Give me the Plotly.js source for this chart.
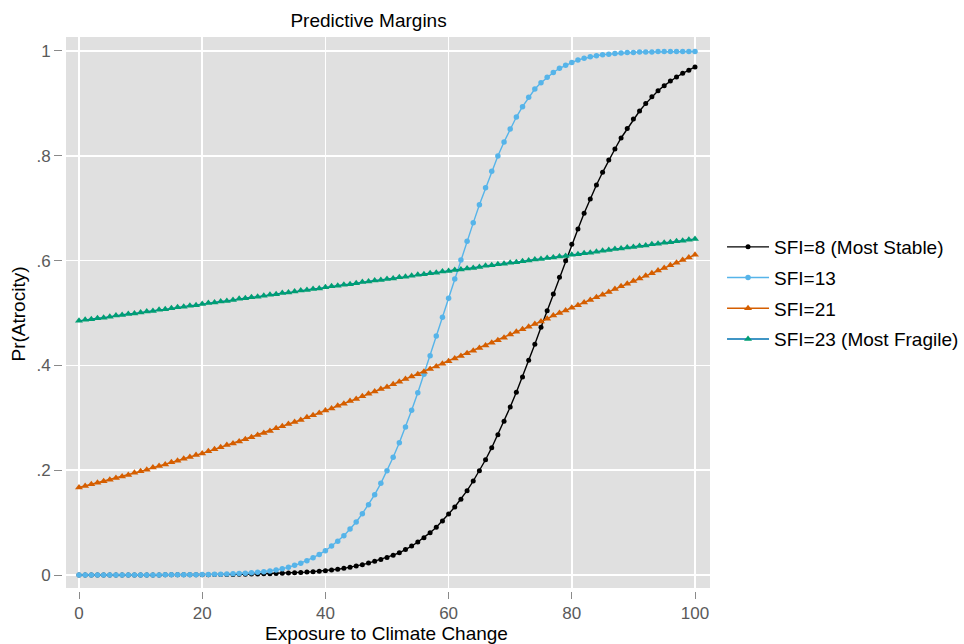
<!DOCTYPE html>
<html>
<head>
<meta charset="utf-8">
<script src="https://cdn.plot.ly/plotly-3.0.1.min.js"></script>
<style>html,body{margin:0;padding:0;background:#fff;}#chart{width:964px;height:644px;}</style>
</head>
<body>
<div id="chart"></div>
<script>
// Exposure to Climate Change (x grid)
var exposure = [0,1,2,3,4,5,6,7,8,9,10,11,12,13,14,15,16,17,18,19,20,21,22,23,24,25,26,27,28,29,30,31,32,33,34,35,36,37,38,39,40,41,42,43,44,45,46,47,48,49,50,51,52,53,54,55,56,57,58,59,60,61,62,63,64,65,66,67,68,69,70,71,72,73,74,75,76,77,78,79,80,81,82,83,84,85,86,87,88,89,90,91,92,93,94,95,96,97,98,99,100];

var seriesNames = ["SFI=8 (Most Stable)", "SFI=13", "SFI=21", "SFI=23 (Most Fragile)"];

var sfi8 = [
 0.0000,0.0000,0.0000,0.0001,0.0001,0.0001,0.0001,0.0001,0.0001,0.0001,
 0.0002,0.0002,0.0002,0.0002,0.0003,0.0003,0.0004,0.0004,0.0005,0.0005,
 0.0006,0.0007,0.0008,0.0009,0.0010,0.0012,0.0013,0.0015,0.0018,0.0020,
 0.0023,0.0026,0.0029,0.0033,0.0038,0.0043,0.0049,0.0056,0.0064,0.0073,
 0.0083,0.0096,0.0110,0.0127,0.0146,0.0170,0.0198,0.0228,0.0262,0.0297,
 0.0335,0.0378,0.0425,0.0485,0.0553,0.0630,0.0713,0.0808,0.0910,0.1031,
 0.1164,0.1298,0.1444,0.1610,0.1794,0.1990,0.2200,0.2430,0.2678,0.2933,
 0.3206,0.3486,0.3779,0.4097,0.4403,0.4727,0.5044,0.5363,0.5681,0.5998,
 0.6311,0.6603,0.6902,0.7176,0.7443,0.7685,0.7920,0.8130,0.8340,0.8520,
 0.8700,0.8855,0.8996,0.9128,0.9243,0.9339,0.9427,0.9504,0.9574,0.9631,
 0.9695];

var sfi13 = [
 0.0000,0.0000,0.0000,0.0000,0.0000,0.0001,0.0001,0.0001,0.0001,0.0001,
 0.0001,0.0001,0.0002,0.0002,0.0003,0.0003,0.0004,0.0005,0.0006,0.0007,
 0.0009,0.0011,0.0013,0.0016,0.0019,0.0023,0.0029,0.0035,0.0043,0.0052,
 0.0064,0.0078,0.0095,0.0118,0.0148,0.0185,0.0226,0.0274,0.0330,0.0393,
 0.0464,0.0553,0.0643,0.0750,0.0878,0.1011,0.1170,0.1342,0.1533,0.1750,
 0.1990,0.2246,0.2525,0.2824,0.3143,0.3480,0.3830,0.4185,0.4560,0.4920,
 0.5280,0.5650,0.6010,0.6370,0.6720,0.7067,0.7390,0.7704,0.7996,0.8263,
 0.8510,0.8740,0.8937,0.9116,0.9275,0.9395,0.9500,0.9590,0.9670,0.9730,
 0.9780,0.9830,0.9860,0.9890,0.9910,0.9930,0.9940,0.9950,0.9960,0.9970,
 0.9970,0.9980,0.9980,0.9980,0.9990,0.9990,0.9990,0.9990,0.9990,0.9990,
 0.9990];

var sfi21 = [
 0.167,0.170,0.173,0.176,0.179,0.182,0.185,0.188,0.191,0.195,
 0.198,0.201,0.205,0.208,0.211,0.215,0.218,0.222,0.225,0.229,
 0.232,0.236,0.240,0.244,0.248,0.251,0.255,0.259,0.263,0.267,
 0.271,0.275,0.280,0.284,0.288,0.292,0.296,0.301,0.305,0.309,
 0.314,0.318,0.323,0.327,0.332,0.336,0.341,0.346,0.350,0.355,
 0.359,0.364,0.369,0.374,0.379,0.383,0.388,0.393,0.398,0.403,
 0.408,0.413,0.418,0.423,0.428,0.433,0.438,0.443,0.448,0.453,
 0.459,0.464,0.469,0.474,0.479,0.484,0.489,0.495,0.500,0.505,
 0.510,0.515,0.520,0.525,0.530,0.535,0.540,0.546,0.551,0.556,
 0.561,0.566,0.571,0.576,0.581,0.586,0.591,0.596,0.601,0.606,
 0.611];

var sfi23 = [
 0.485,0.487,0.488,0.490,0.491,0.493,0.495,0.496,0.498,0.499,
 0.501,0.503,0.504,0.506,0.507,0.509,0.511,0.512,0.514,0.515,
 0.517,0.519,0.520,0.522,0.523,0.525,0.527,0.528,0.530,0.531,
 0.533,0.535,0.536,0.538,0.539,0.541,0.543,0.544,0.546,0.547,
 0.549,0.551,0.552,0.554,0.555,0.557,0.559,0.560,0.562,0.563,
 0.565,0.566,0.568,0.569,0.571,0.573,0.574,0.576,0.577,0.579,
 0.580,0.582,0.583,0.585,0.586,0.588,0.590,0.591,0.593,0.594,
 0.596,0.597,0.599,0.600,0.602,0.603,0.605,0.606,0.608,0.609,
 0.611,0.612,0.614,0.615,0.617,0.619,0.620,0.622,0.623,0.625,
 0.626,0.628,0.629,0.631,0.632,0.634,0.635,0.637,0.638,0.640,
 0.641];

var xTickVals = [0,20,40,60,80,100];
var xTickText = ["0","20","40","60","80","100"];
var yTickVals = [0,0.2,0.4,0.6,0.8,1];
var yTickText = ["0",".2",".4",".6",".8","1"];

var FONT = "Liberation Sans, Arial, Helvetica, sans-serif";

function mk(name, y, lineColor, markerColor, symbol, msize, grp) {
  return {
    type: "scatter", mode: "lines+markers", name: name, x: exposure, y: y,
    legendgroup: grp,
    line: {color: lineColor, width: 1.4},
    marker: {color: markerColor, symbol: symbol, size: msize, line: {width: 0}},
    cliponaxis: false, hoverinfo: "x+y"
  };
}

var traces = [
  mk(seriesNames[0], sfi8, "#000000", "#000000", "circle", 5, "a"),
  mk(seriesNames[1], sfi13, "#56B4E9", "#56B4E9", "circle", 5.5, "b"),
  mk(seriesNames[2], sfi21, "#D55E00", "#D55E00", "triangle-up", 7, "c"),
  mk(seriesNames[3], sfi23, "#0072B2", "#009E73", "triangle-up", 7, "d")
];

var layout = {
  width: 964, height: 644,
  margin: {l: 63, r: 254, t: 37, b: 53, pad: 0},
  paper_bgcolor: "#ffffff",
  plot_bgcolor: "#ffffff",
  font: {family: FONT, color: "#000000"},
  title: {
    text: "Predictive Margins",
    font: {family: FONT, size: 19, color: "#000000"},
    xref: "container", x: 0.3823, xanchor: "center",
    yref: "container", y: 0.969, yanchor: "middle"
  },
  xaxis: {
    range: [-2.597, 102.435],
    tickmode: "array", tickvals: xTickVals, ticktext: xTickText,
    ticks: "outside", ticklen: 7, tickwidth: 1, tickcolor: "#8a8a8a",
    tickfont: {family: FONT, size: 17, color: "#5a5a5a"},
    showgrid: true, gridcolor: "#ffffff", gridwidth: 1.5,
    zeroline: false, showline: false, automargin: false,
    title: {text: "Exposure to Climate Change", font: {family: FONT, size: 19, color: "#000000"}, standoff: 4}
  },
  yaxis: {
    range: [-0.0305, 1.0267],
    tickmode: "array", tickvals: yTickVals, ticktext: yTickText,
    ticks: "outside", ticklen: 8, tickwidth: 1, tickcolor: "#8a8a8a",
    tickfont: {family: FONT, size: 17, color: "#5a5a5a"},
    showgrid: true, gridcolor: "#ffffff", gridwidth: 1.5,
    zeroline: false, showline: false, automargin: false,
    title: {text: "Pr(Atrocity)", font: {family: FONT, size: 19, color: "#000000"}, standoff: 5}
  },
  shapes: [{
    type: "rect", xref: "paper", yref: "paper",
    x0: 3/647, x1: 1, y0: 3/554, y1: 1,
    fillcolor: "#e0e0e0", line: {width: 0}, layer: "below"
  }],
  showlegend: true,
  legend: {
    xref: "container", yref: "container",
    x: 0.749, y: 0.646, xanchor: "left", yanchor: "top",
    font: {family: FONT, size: 19, color: "#000000"},
    bgcolor: "rgba(0,0,0,0)", borderwidth: 0,
    tracegroupgap: 3, itemsizing: "trace", itemwidth: 42
  }
};

Plotly.newPlot("chart", traces, layout, {displayModeBar: false, staticPlot: true});
</script>
</body>
</html>
